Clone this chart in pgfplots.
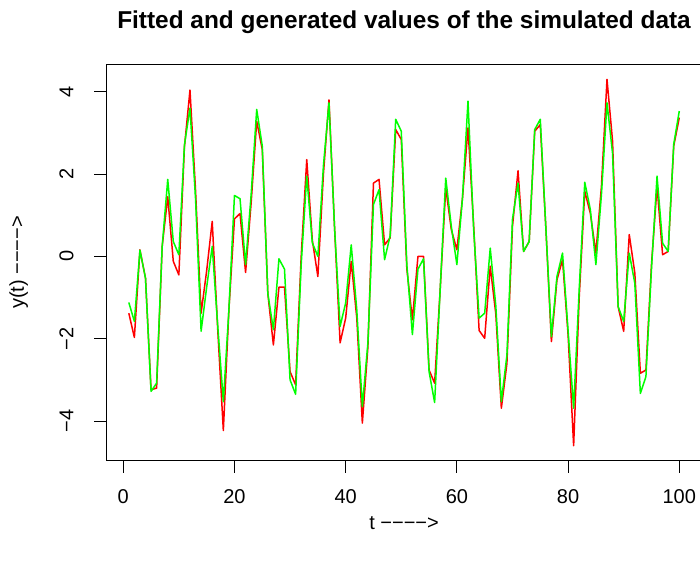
\documentclass[border=0pt]{standalone}
\usepackage{fontspec}
\setmainfont{Liberation Sans}
\usepackage{pgfplots}
\pgfplotsset{compat=1.18}
\usepackage{pgfplotstable}
\newcommand\arr{−\kern0pt−\kern0pt−\kern0pt−\kern0pt>}
\pgfplotstableread{
t r g
1 -1.38 -1.12
2 -1.97 -1.58
3 0.16 0.15
4 -0.53 -0.53
5 -3.24 -3.28
6 -3.20 -3.08
7 0.24 0.24
8 1.45 1.87
9 -0.12 0.36
10 -0.45 0.04
11 2.65 2.70
12 4.04 3.60
13 1.60 1.40
14 -1.38 -1.82
15 -0.35 -0.75
16 0.85 0.24
17 -1.80 -1.70
18 -4.23 -3.53
19 -1.30 -1.30
20 0.91 1.48
21 1.04 1.40
22 -0.39 -0.20
23 1.30 1.50
24 3.28 3.57
25 2.60 2.68
26 -0.90 -0.90
27 -2.15 -1.78
28 -0.75 -0.06
29 -0.75 -0.31
30 -2.80 -3.00
31 -3.12 -3.35
32 0.00 -0.20
33 2.35 1.95
34 0.40 0.33
35 -0.49 0.00
36 2.00 2.20
37 3.80 3.73
38 0.70 0.70
39 -2.10 -1.70
40 -1.50 -1.13
41 -0.12 0.28
42 -1.50 -1.30
43 -4.05 -3.65
44 -2.20 -2.10
45 1.78 1.26
46 1.87 1.62
47 0.28 -0.08
48 0.45 0.50
49 3.08 3.33
50 2.84 3.04
51 -0.30 -0.20
52 -1.54 -1.90
53 0.00 -0.31
54 0.00 -0.06
55 -2.76 -2.80
56 -3.08 -3.55
57 -0.80 -0.80
58 1.66 1.90
59 0.65 0.73
60 0.16 -0.20
61 1.40 1.40
62 3.12 3.77
63 0.80 0.70
64 -1.80 -1.50
65 -1.99 -1.38
66 -0.24 0.20
67 -1.40 -1.20
68 -3.69 -3.53
69 -2.60 -2.40
70 0.73 0.90
71 2.08 1.78
72 0.12 0.12
73 0.36 0.36
74 3.04 3.08
75 3.20 3.33
76 0.70 0.70
77 -2.07 -1.95
78 -0.57 -0.49
79 -0.08 0.08
80 -1.90 -1.80
81 -4.60 -3.69
82 -1.00 -0.80
83 1.58 1.80
84 1.05 1.14
85 0.08 -0.20
86 1.70 1.50
87 4.30 3.73
88 2.80 2.50
89 -1.22 -1.22
90 -1.82 -1.58
91 0.53 0.08
92 -0.40 -0.65
93 -2.84 -3.33
94 -2.76 -2.92
95 -0.20 -0.30
96 1.70 1.95
97 0.04 0.32
98 0.12 0.12
99 2.68 2.72
100 3.37 3.53
}\data
\begin{document}
\begin{tikzpicture}
\begin{axis}[
  scale only axis,
  width=594.5bp, height=395.7bp,
  xmin=-2.96, xmax=103.96,
  ymin=-4.956, ymax=4.656,
  axis line style={line width=0.9bp},
  tick style={line width=0.9bp, black},
  tick align=outside,
  major tick length=12.5bp,
  xtick pos=left, ytick pos=left,
  xtick={0,20,40,60,80,100},
  xticklabels={0,20,40,60,80,100},
  ytick={-4,-2,0,2,4},
  yticklabels={−4,−2,0,2,4},
  tick label style={font=\fontsize{20bp}{24bp}\selectfont},
  xticklabel style={anchor=base, yshift=-31bp},
  yticklabel style={xshift=-21bp, rotate=90, anchor=base},
  every axis x label/.style={at={(axis description cs:0.5,-0.1734)}, anchor=base, font=\fontsize{20bp}{24bp}\selectfont},
  every axis y label/.style={at={(axis description cs:-0.1393,0.5)}, rotate=90, anchor=base, font=\fontsize{20bp}{24bp}\selectfont},
  title style={at={(axis description cs:0.5,1.0776)}, anchor=base, font=\bfseries\fontsize{24.4bp}{28bp}\selectfont},
  title={Fitted and generated values of the simulated data},
  xlabel={t \arr},
  ylabel={y(t) \arr},
]
\addplot[color={rgb,255:red,255;green,0;blue,0}, line width=1.5bp, line join=round] table[x=t, y=r] {\data};
\addplot[color={rgb,255:red,0;green,255;blue,0}, line width=1.5bp, line join=round] table[x=t, y=g] {\data};
\end{axis}
\pgfresetboundingbox
\path[use as bounding box] (-106.8bp,-100.6bp) rectangle (593.2bp,460.4bp);
\end{tikzpicture}
\end{document}
